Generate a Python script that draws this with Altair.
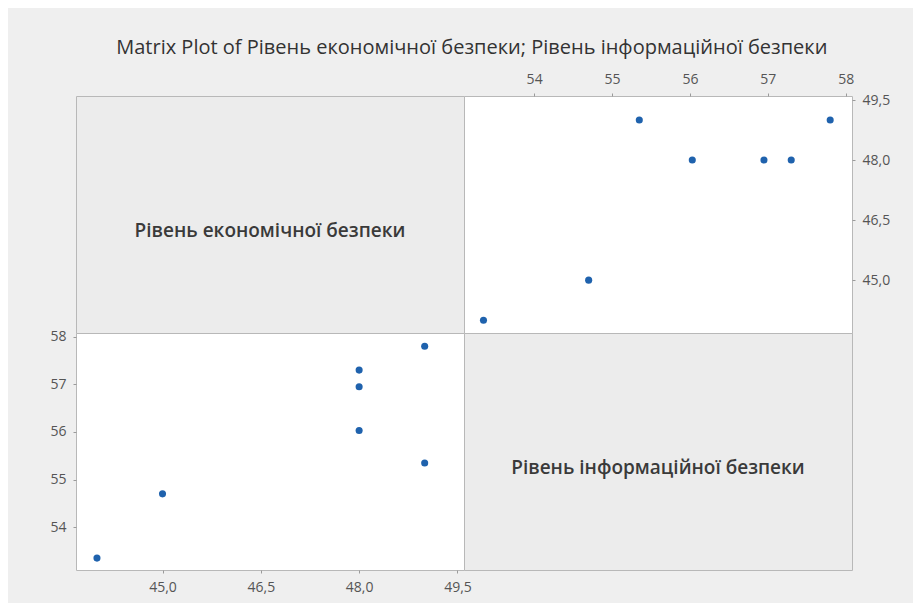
import altair as alt
import pandas as pd

# Data
econ = [44.0, 45.0, 48.0, 48.0, 48.0, 49.0, 49.0]
info = [53.35, 54.7, 57.3, 56.95, 56.03, 57.8, 55.35]
econ_name = "Рівень економічної безпеки"
info_name = "Рівень інформаційної безпеки"
econ_ticks = [45.0, 46.5, 48.0, 49.5]
info_ticks = [54, 55, 56, 57, 58]
econ_domain = [43.68, 49.6]
info_domain = [53.1, 58.08]

df = pd.DataFrame({"econ": econ, "info": info})

W, H = 388, 237
PT_COLOR = "#1f62ad"
GREY = "#ececec"
BORDER = "#b8b8b8"
FONT = "Open Sans"
comma = "replace(format(datum.value, '.1f'), '.', ',')"

axis_common = dict(grid=False, domain=False, tickSize=3, tickColor="#9a9a9a",
                   labelColor="#555555", labelFont=FONT, labelFontSize=14,
                   labelPadding=7, title=None)

white_view = alt.ViewBackground(fill="white", stroke=BORDER, strokeWidth=1)
grey_view = alt.ViewBackground(fill=GREY, stroke=BORDER, strokeWidth=1)


def label_panel(text):
    return alt.Chart(pd.DataFrame({"t": [text]})).mark_text(
        font=FONT, fontSize=19, color="#3a3a3a", fontWeight=600
    ).encode(
        text="t:N", x=alt.value(W / 2), y=alt.value(H / 2 + 16)
    ).properties(width=W, height=H, view=grey_view)


top_left = label_panel(econ_name)
bottom_right = label_panel(info_name)

top_right = alt.Chart(df).mark_circle(size=50, opacity=1, color=PT_COLOR).encode(
    x=alt.X("info:Q", scale=alt.Scale(domain=info_domain, nice=False, zero=False),
            axis=alt.Axis(orient="top", values=info_ticks, format="d", **axis_common)),
    y=alt.Y("econ:Q", scale=alt.Scale(domain=econ_domain, nice=False, zero=False),
            axis=alt.Axis(orient="right", values=econ_ticks, labelExpr=comma, **axis_common)),
).properties(width=W, height=H, view=white_view)

bottom_left = alt.Chart(df).mark_circle(size=50, opacity=1, color=PT_COLOR).encode(
    x=alt.X("econ:Q", scale=alt.Scale(domain=econ_domain, nice=False, zero=False),
            axis=alt.Axis(orient="bottom", values=econ_ticks, labelExpr=comma, **axis_common)),
    y=alt.Y("info:Q", scale=alt.Scale(domain=info_domain, nice=False, zero=False),
            axis=alt.Axis(orient="left", values=info_ticks, format="d", **axis_common)),
).properties(width=W, height=H, view=white_view)

chart = alt.concat(
    top_left, top_right, bottom_left, bottom_right,
    columns=2, spacing=0, bounds="flush"
).properties(
    title=alt.TitleParams(
        "Matrix Plot of Рівень економічної безпеки; Рівень інформаційної безпеки",
        font=FONT, fontSize=20, fontWeight="normal", color="#333333",
        anchor="middle", offset=14, dx=2
    ),
    background="#efefef",
    padding={"left": 41, "top": 29, "right": 22, "bottom": 8},
)

chart.save("out.html", embed_options={"renderer": "svg", "actions": False})
